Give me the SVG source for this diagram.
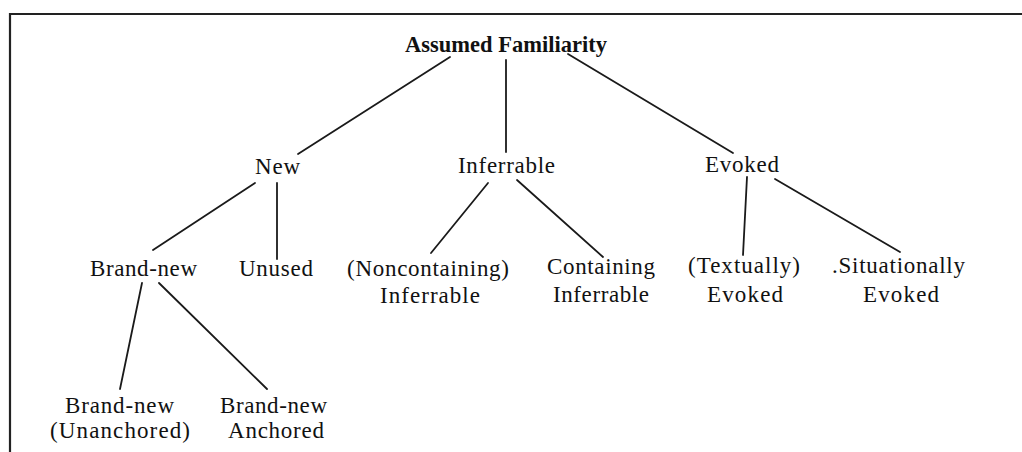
<svg xmlns="http://www.w3.org/2000/svg" width="1022" height="452" viewBox="0 0 1022 452">
<style>
text{font-family:"Liberation Serif","Times New Roman",serif;font-size:23px;fill:#111;text-anchor:middle}
.title{font-weight:bold;font-size:23px}
.edge{stroke:#1a1a1a;stroke-width:1.8;fill:none;stroke-linecap:round}
.frame{stroke:#222;stroke-width:2.2;fill:none}
</style>
<rect width="1022" height="452" fill="#fff"/>
<path class="frame" d="M10,452 V14 H1022"/>
<g id="connectors">
<line class="edge" x1="450" y1="57" x2="298" y2="154"/>
<line class="edge" x1="506" y1="60" x2="506" y2="152"/>
<line class="edge" x1="568" y1="54" x2="733" y2="153"/>
<line class="edge" x1="255" y1="183" x2="153" y2="250"/>
<line class="edge" x1="277" y1="183" x2="277" y2="259"/>
<line class="edge" x1="488" y1="183" x2="431" y2="253"/>
<line class="edge" x1="517" y1="180" x2="603" y2="257"/>
<line class="edge" x1="747" y1="177" x2="743" y2="255"/>
<line class="edge" x1="775" y1="179" x2="900" y2="252"/>
<line class="edge" x1="142" y1="283" x2="120" y2="389"/>
<line class="edge" x1="159" y1="283" x2="267" y2="389"/>
</g>
<g id="assumed-familiarity"><text class="title" x="506" y="52" textLength="202" lengthAdjust="spacingAndGlyphs">Assumed Familiarity</text></g>
<g id="new"><text x="277.5" y="174" textLength="45" lengthAdjust="spacing">New</text></g>
<g id="inferrable"><text x="506.5" y="173" textLength="97" lengthAdjust="spacing">Inferrable</text></g>
<g id="evoked"><text x="742" y="172" textLength="74" lengthAdjust="spacing">Evoked</text></g>
<g id="brand-new"><text x="143.5" y="276" textLength="107" lengthAdjust="spacing">Brand-new</text></g>
<g id="unused"><text x="276" y="276" textLength="74" lengthAdjust="spacing">Unused</text></g>
<g id="noncontaining-inferrable">
<text x="428" y="276" textLength="162" lengthAdjust="spacing">(Noncontaining)</text>
<text x="430" y="303" textLength="100" lengthAdjust="spacing">Inferrable</text>
</g>
<g id="containing-inferrable">
<text x="601" y="274" textLength="108" lengthAdjust="spacing">Containing</text>
<text x="601" y="302" textLength="96" lengthAdjust="spacing">Inferrable</text>
</g>
<g id="textually-evoked">
<text x="744" y="273" textLength="112" lengthAdjust="spacing">(Textually)</text>
<text x="745" y="302" textLength="76" lengthAdjust="spacing">Evoked</text>
</g>
<g id="situationally-evoked">
<text x="898.5" y="273" textLength="133" lengthAdjust="spacing">.Situationally</text>
<text x="901" y="302" textLength="76" lengthAdjust="spacing">Evoked</text>
</g>
<g id="brand-new-unanchored">
<text x="119.5" y="413" textLength="109" lengthAdjust="spacing">Brand-new</text>
<text x="120" y="438" textLength="140" lengthAdjust="spacing">(Unanchored)</text>
</g>
<g id="brand-new-anchored">
<text x="273.5" y="413" textLength="107" lengthAdjust="spacing">Brand-new</text>
<text x="276" y="438" textLength="96" lengthAdjust="spacing">Anchored</text>
</g>
</svg>
